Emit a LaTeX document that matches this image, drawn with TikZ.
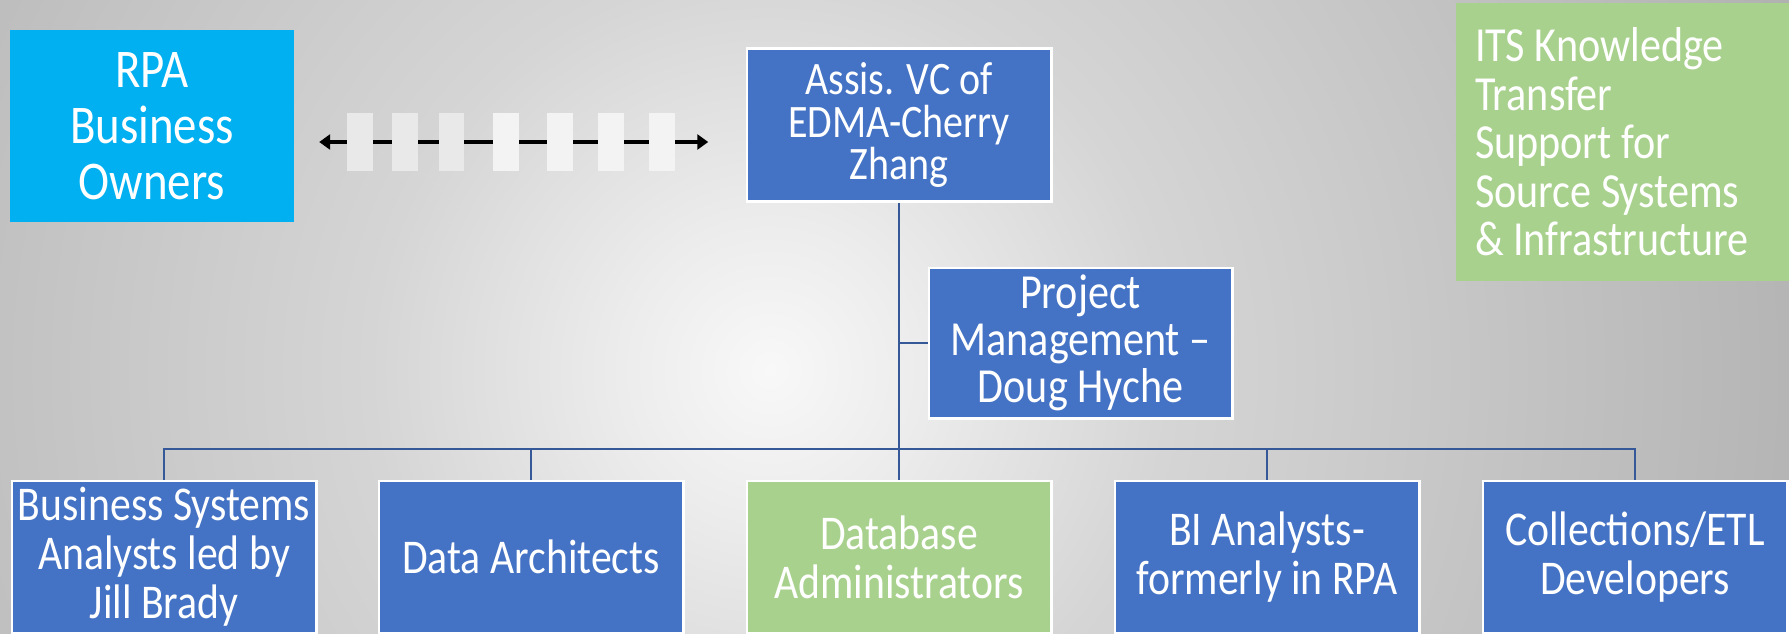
\documentclass[tikz,border=0pt]{standalone}
\usepackage{fontspec}
\setmainfont{Carlito}[FakeStretch=0.86]
\usetikzlibrary{arrows.meta}
\definecolor{bgA}{RGB}{248,248,248}
\definecolor{bgB}{RGB}{236,236,236}
\definecolor{bgC}{RGB}{213,213,213}
\definecolor{bgD}{RGB}{200,200,200}
\definecolor{bgE}{RGB}{182,182,182}
\definecolor{bgF}{RGB}{176,176,176}
\definecolor{orgblue}{RGB}{68,114,196}
\definecolor{skyblue}{RGB}{0,176,240}
\definecolor{leafgreen}{RGB}{169,209,142}
\definecolor{linkblue}{RGB}{52,88,152}
\definecolor{dashA}{RGB}{233,233,233}
\definecolor{dashB}{RGB}{243,243,243}
\pgfdeclareradialshading{bgshade}{\pgfpoint{0bp}{0bp}}{color(0bp)=(bgA); color(3.4bp)=(bgB); color(9.1bp)=(bgC); color(14.8bp)=(bgD); color(22.7bp)=(bgE); color(25bp)=(bgF); color(50bp)=(bgF)}
\begin{document}
\begin{tikzpicture}[x=1pt,y=-1pt,
  orgbox/.style={rectangle, fill=orgblue, draw=white, line width=1.5pt, text=white,
    align=center, minimum width=304pt, minimum height=152pt, inner sep=2pt,
    font={\fontsize{48.5}{49}\selectfont}},
  greenbox/.style={orgbox, fill=leafgreen},
  orgline/.style={draw=linkblue, line width=2.5pt}
]
\useasboundingbox (0,0) rectangle (1789,634);
\begin{scope}
  \clip (0,0) rectangle (1789,634);
  \shade[shading=bgshade] (770,370) circle[radius=1100pt];
\end{scope}

% nodes
\node[rectangle, fill=skyblue, text=white, align=center, minimum width=284pt,
      minimum height=192pt, inner sep=2pt, font={\fontsize{54.5}{56}\selectfont}]
      (rpa) at (152,126) {RPA\\Business\\Owners};
\node[orgbox, font={\fontsize{46.5}{42.5}\selectfont}] (assis) at (899,125) {Assis. VC of\\EDMA-Cherry\\Zhang};
\node[orgbox, minimum width=303pt, minimum height=150pt, font={\fontsize{49}{47}\selectfont}]
      (proj) at (1080.5,343) {Project\\Management –\\Doug Hyche};
\node[rectangle, fill=leafgreen, text=white, align=flush left, minimum width=333pt,
      minimum height=278pt, text width=295pt, inner xsep=19pt, inner ysep=2pt,
      font={\fontsize{49}{48.5}\selectfont}]
      (its) at (1622.5,142) {ITS Knowledge\\Transfer\\Support for\\Source Systems\\\& Infrastructure};

\node[orgbox] (b1) at (164,557) {Business Systems\\Analysts led by\\Jill Brady};
\node[orgbox] (b2) at (531,557) {Data Architects};
\node[greenbox] (b3) at (899,557) {Database\\Administrators};
\node[orgbox] (b4) at (1267,557) {BI Analysts-\\formerly in RPA};
\node[orgbox] (b5) at (1635,557) {Collections/ETL\\Developers};

% connectors
\coordinate (bar) at (899,449);
\draw[orgline] (assis.south) -- (b3.north);
\draw[orgline] (proj.west) -- (proj.west -| assis.south);
\draw[orgline] (b1.north) |- (bar) -| (b5.north);
\draw[orgline] (b2.north) -- (b2.north |- bar);
\draw[orgline] (b4.north) -- (b4.north |- bar);
% box borders on top of connectors
\foreach \n in {assis,proj,b1,b2,b3,b4,b5}{
  \draw[white, line width=1.5pt] (\n.south west) rectangle (\n.north east);
}

% double arrow between RPA and the Assis. VC
\draw[line width=3.5pt, {Triangle[length=11pt,width=15pt]}-{Triangle[length=11pt,width=15pt]}]
  ([shift={(25,16)}]rpa.east) -- ([shift={(-38,17)}]assis.west);
\foreach \xa/\xb/\c in {347/373/dashA, 392/418/dashA, 439/464/dashA, 493/519/dashB, 547/573/dashB, 598/624/dashB, 649/675/dashB}{
  \fill[\c] (\xa,113) rectangle (\xb,171);
}
\end{tikzpicture}
\end{document}
